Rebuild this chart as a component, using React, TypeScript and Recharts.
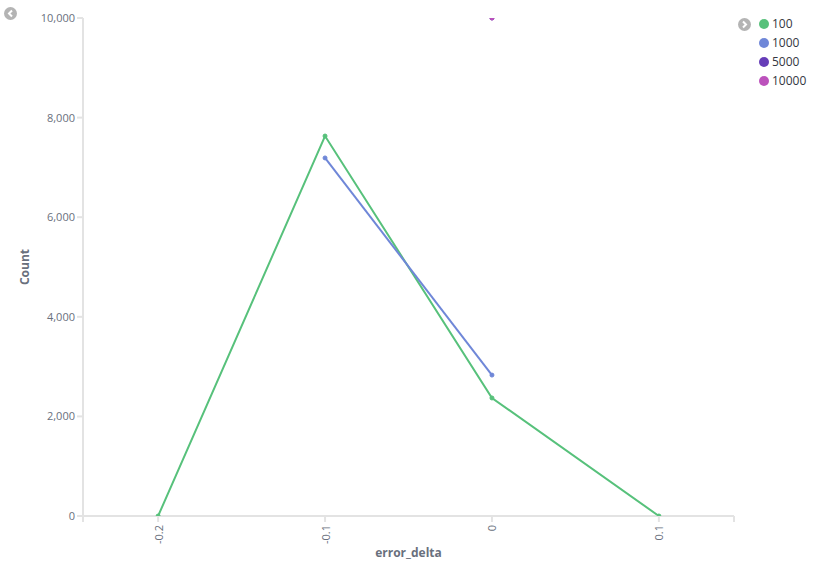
import React from "react";
import { LineChart, Line, XAxis, YAxis } from "recharts";

// buckets on the x axis (error_delta)
const deltas = [-0.2, -0.1, 0, 0.1];
// counts per series, null = no bucket
const s100 = [0, 7630, 2370, 0];
const s1000 = [null, 7190, 2830, null];
const s5000 = [null, null, 10000, null];
const s10000 = [null, null, 10000, null];

const seriesNames = ["100", "1000", "5000", "10000"];
const COLORS = ["#57c17b", "#6f87d8", "#663db8", "#bc52bc"];

const yTicks = [0, 2000, 4000, 6000, 8000, 10000];
const xDomain = [-0.245, 0.145];
const xTicks = [xDomain[0], ...deltas, xDomain[1]];

const data = deltas.map((d, i) => ({
  delta: d,
  s100: s100[i],
  s1000: s1000[i],
  s5000: s5000[i],
  s10000: s10000[i],
}));

const keys = ["s100", "s1000", "s5000", "s10000"];
const FONT = "'Open Sans', 'Noto Sans', sans-serif";
const TICK_COLOR = "#69707d";
const AXIS_COLOR = "#e3e3e3";

function XTick(props: any) {
  const { x, y, payload } = props;
  const v = payload.value;
  if (!deltas.includes(v)) return null;
  return (
    <text
      x={x}
      y={y + 1}
      transform={`rotate(-90, ${x}, ${y + 1})`}
      textAnchor="end"
      dominantBaseline="central"
      fontSize={11}
      fill={TICK_COLOR}
      fontFamily={FONT}
    >
      {String(v)}
    </text>
  );
}

function Chevron({ x, y, dir }: { x: number; y: number; dir: "l" | "r" }) {
  const d = dir === "l" ? "M8 3.5 L5 6.5 L8 9.5" : "M5 3.5 L8 6.5 L5 9.5";
  return (
    <svg
      width={13}
      height={13}
      style={{ position: "absolute", left: x, top: y }}
    >
      <circle cx={6.5} cy={6.5} r={6.5} fill="#b4b4b4" />
      <path d={d} stroke="#fff" strokeWidth={2} fill="none" />
    </svg>
  );
}

export default function App() {
  return (
    <div
      style={{
        position: "absolute",
        left: 0,
        top: 0,
        width: 826,
        height: 568,
        background: "#fff",
        fontFamily: FONT,
      }}
    >
      <LineChart
        width={826}
        height={568}
        data={data}
        margin={{ top: 18, right: 92, bottom: 0, left: 0 }}
      >
        <XAxis
          dataKey="delta"
          type="number"
          domain={xDomain}
          ticks={xTicks}
          allowDataOverflow
          height={52}
          stroke={AXIS_COLOR}
          strokeWidth={2}
          tickSize={6}
          tick={<XTick />}
          tickLine={{ stroke: AXIS_COLOR, strokeWidth: 2 }}
          label={{
            content: ({ viewBox }: any) => (
              <text
                x={viewBox.x + viewBox.width / 2}
                y={viewBox.y + 41}
                textAnchor="middle"
                fontSize={12}
                fontWeight="bold"
                fill={TICK_COLOR}
                fontFamily={FONT}
              >
                error_delta
              </text>
            ),
          }}
        />
        <YAxis
          type="number"
          domain={[0, 10000]}
          ticks={yTicks}
          allowDataOverflow
          width={83}
          stroke={AXIS_COLOR}
          strokeWidth={2}
          tickSize={6}
          tickLine={{ stroke: AXIS_COLOR }}
          tick={{ fontSize: 11, fill: TICK_COLOR, fontFamily: FONT }}
          tickFormatter={(v: number) => v.toLocaleString("en-US")}
          label={{
            content: ({ viewBox }: any) => {
              const cx = 24;
              const cy = viewBox.y + viewBox.height / 2;
              return (
                <text
                  x={cx}
                  y={cy}
                  transform={`rotate(-90, ${cx}, ${cy})`}
                  textAnchor="middle"
                  dominantBaseline="central"
                  fontSize={12}
                  fontWeight="bold"
                  fill={TICK_COLOR}
                  fontFamily={FONT}
                >
                  Count
                </text>
              );
            },
          }}
        />
        {keys.map((k, i) => (
          <Line
            key={k}
            dataKey={k}
            name={seriesNames[i]}
            stroke={COLORS[i]}
            strokeWidth={2}
            dot={{ r: 2, fill: COLORS[i], stroke: COLORS[i], strokeWidth: 1 }}
            type="linear"
            isAnimationActive={false}
          />
        ))}
      </LineChart>
      <Chevron x={4} y={7} dir="l" />
      <Chevron x={738} y={18} dir="r" />
      <div style={{ position: "absolute", left: 759, top: 14 }}>
        {seriesNames.map((n, i) => (
          <div
            key={n}
            style={{
              display: "flex",
              alignItems: "center",
              height: 19,
              fontSize: 12,
              color: "#343741",
            }}
          >
            <span
              style={{
                width: 10,
                height: 10,
                borderRadius: 5,
                background: COLORS[i],
                marginRight: 3,
              }}
            />
            {n}
          </div>
        ))}
      </div>
    </div>
  );
}
